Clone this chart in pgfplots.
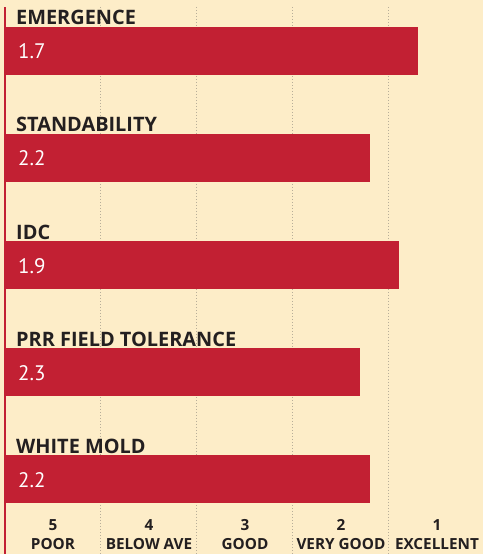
\documentclass[border=0pt]{standalone}
\usepackage{fontspec}
\setmainfont{PT Sans}
\newfontfamily\labfont{Open Sans}[UprightFont=* Bold]
\usepackage{pgfplots}
\pgfplotsset{compat=1.18}
\definecolor{bg}{HTML}{FDEDC8}
\definecolor{barred}{HTML}{C22033}
\definecolor{txt}{HTML}{231F20}
\definecolor{gridc}{HTML}{B8AE99}
\tikzset{
  lab/.style={anchor=base west, inner sep=0pt, text=txt, font=\labfont\fontsize{19.9}{19.9}\selectfont, xshift=11pt, yshift=26pt},
  val/.style={anchor=base west, inner sep=0pt, text=white, font=\fontsize{21}{21}\selectfont, xshift=13pt, yshift=-8pt},
}
\begin{document}
\begin{tikzpicture}[x=1pt,y=1pt]
\useasboundingbox (0,0) rectangle (483,554);
\fill[bg] (0,0) rectangle (483,554);
\begin{axis}[
  at={(5pt,0pt)}, anchor=south west,
  scale only axis, width=480pt, height=547pt,
  x dir=reverse, xmin=1, xmax=6,
  y dir=reverse, ymin=-0.4112, ymax=4.7009,
  axis line style={draw=none},
  ytick=\empty,
  xtick={5.5,4.5,3.5,2.5,1.5},
  xticklabels={{5\\POOR},{4\\BELOW AVE},{3\\GOOD},{2\\VERY GOOD},{1\\EXCELLENT}},
  x tick label style={align=center, font=\labfont\fontsize{15.3}{19}\selectfont, text=txt, anchor=south, inner sep=0pt, yshift=4pt},
  major tick length=0pt,
  extra x ticks={2,3,4,5},
  extra x tick labels={},
  extra x tick style={grid=major, major grid style={gridc, line width=1pt, dash pattern=on 1pt off 2pt}},
  clip=false,
]
\addplot[barred, line width=48pt] coordinates {(6,0) (1.7,0)};
\addplot[barred, line width=48pt] coordinates {(6,1) (2.2,1)};
\addplot[barred, line width=48pt] coordinates {(6,2) (1.9,2)};
\addplot[barred, line width=48pt] coordinates {(6,3) (2.3,3)};
\addplot[barred, line width=48pt] coordinates {(6,4) (2.2,4)};
\node[lab] at (axis cs:6,0) {EMERGENCE};
\node[lab] at (axis cs:6,1) {STANDABILITY};
\node[lab] at (axis cs:6,2) {IDC};
\node[lab] at (axis cs:6,3) {PRR FIELD TOLERANCE};
\node[lab] at (axis cs:6,4) {WHITE MOLD};
\node[val] at (axis cs:6,0) {1.7};
\node[val] at (axis cs:6,1) {2.2};
\node[val] at (axis cs:6,2) {1.9};
\node[val] at (axis cs:6,3) {2.3};
\node[val] at (axis cs:6,4) {2.2};
\draw[barred, line width=1.5pt] (rel axis cs:0,0) -- (rel axis cs:0,1);
\end{axis}
\end{tikzpicture}
\end{document}
